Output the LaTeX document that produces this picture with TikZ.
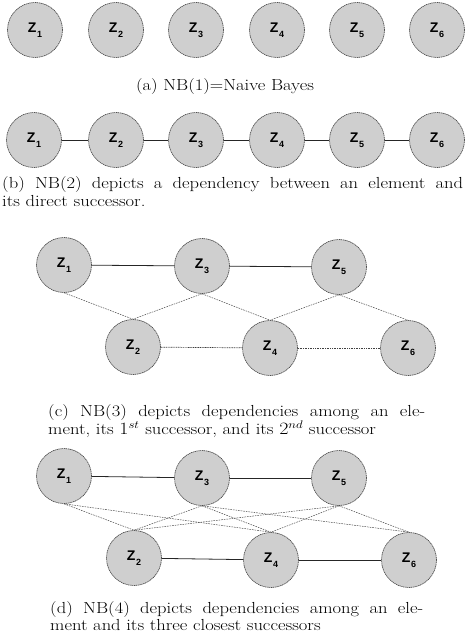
\documentclass[tikz,border=0pt]{standalone}
\usepackage{fontspec}
\newfontfamily\zfont{Liberation Sans}
\newcommand{\zlab}[1]{{\zfont\bfseries\fontsize{14}{14}\selectfont Z\kern0.5pt\raisebox{-4.5pt}{\fontsize{9}{9}\selectfont #1}}}
\newcommand{\capfont}{\fontsize{16}{17.5}\selectfont}
\newcommand{\wide}[1]{\scalebox{1.16}[1]{#1}}
\newcommand{\cappar}[2]{\wide{\parbox[t]{\dimexpr #1*100/116\relax}{\capfont #2}}}
\begin{document}
\begin{tikzpicture}[x=1pt,y=-1pt,
  zn/.style={circle, minimum size=55pt, inner sep=0pt, fill=black!19,
    draw=black!75, line width=0.6pt, dash pattern=on 1.3pt off 0.6pt},
  solidc/.style={draw=black!85, line width=0.8pt},
  dashc/.style={draw=black!70, line width=0.5pt, dash pattern=on 1.6pt off 1pt},
  dotc/.style={draw=black!75, line width=0.7pt, dash pattern=on 1pt off 0.7pt},
  captext/.style={inner sep=0pt, anchor=base west}]
\useasboundingbox (0,0) rectangle (465,644);

% (a)
\foreach \i/\x in {1/35,2/116,3/196,4/277,5/357,6/437}
  \node[zn] (a\i) at (\x,30) {\zlab{\i}};
\node[inner sep=0pt, anchor=base] (capa) at (225,91) {\wide{\capfont (a) NB(1)=Naive Bayes}};

% (b)
\foreach \i/\x in {1/34,2/116,3/196,4/277,5/357,6/437}
  \node[zn] (b\i) at (\x,140) {\zlab{\i}};
\draw[solidc] (b1) -- (b2);
\draw[solidc] (b2) -- (b3);
\draw[solidc] (b3) -- (b4);
\draw[solidc] (b4) -- (b5);
\draw[solidc] (b5) -- (b6);
\node[captext] (capb) at (2,189)
  {\cappar{461pt}{(b) NB(2) depicts a dependency between an element and\linebreak its direct successor.}};

% (c)
\node[zn] (c1) at (64,265) {\zlab{1}};
\node[zn] (c3) at (202,266) {\zlab{3}};
\node[zn] (c5) at (339,267) {\zlab{5}};
\node[zn] (c2) at (133,347) {\zlab{2}};
\node[zn] (c4) at (270,348) {\zlab{4}};
\node[zn] (c6) at (408,348) {\zlab{6}};
\draw[solidc] (c1) -- (c3);
\draw[solidc] (c3) -- (c5);
\draw[dotc] (c2) -- (c4);
\draw[dotc] (c4) -- (c6);
\draw[dashc] (c1.south) -- (c2.north);
\draw[dashc] (c3.south) -- (c2.north);
\draw[dashc] (c3.south) -- (c4.north);
\draw[dashc] (c5.south) -- (c4.north);
\draw[dashc] (c5.south) -- (c6.north);
\node[captext] (capc) at (48,416)
  {\cappar{377pt}{(c) NB(3) depicts dependencies among an ele-\linebreak ment, its $1^{st}$ successor, and its $2^{nd}$ successor}};

% (d)
\node[zn] (d1) at (64,476) {\zlab{1}};
\node[zn] (d3) at (202,478) {\zlab{3}};
\node[zn] (d5) at (339,478) {\zlab{5}};
\node[zn] (d2) at (134,558) {\zlab{2}};
\node[zn] (d4) at (271,560) {\zlab{4}};
\node[zn] (d6) at (409,560) {\zlab{6}};
\draw[solidc] (d1) -- (d3);
\draw[solidc] (d3) -- (d5);
\draw[solidc] (d2) -- (d4);
\draw[solidc] (d4) -- (d6);
\draw[dashc] (d1.south) -- (d2.north);
\draw[dashc] (d1.south) -- (d4.north);
\draw[dashc] (d3.south) -- (d2.north);
\draw[dashc] (d3.south) -- (d4.north);
\draw[dashc] (d3.south) -- (d6.north);
\draw[dashc] (d5.south) -- (d2.north);
\draw[dashc] (d5.south) -- (d4.north);
\draw[dashc] (d5.south) -- (d6.north);
\node[captext] (capd) at (50,613)
  {\cappar{373pt}{(d) NB(4) depicts dependencies among an ele-\linebreak ment and its three closest successors}};
\end{tikzpicture}
\end{document}
